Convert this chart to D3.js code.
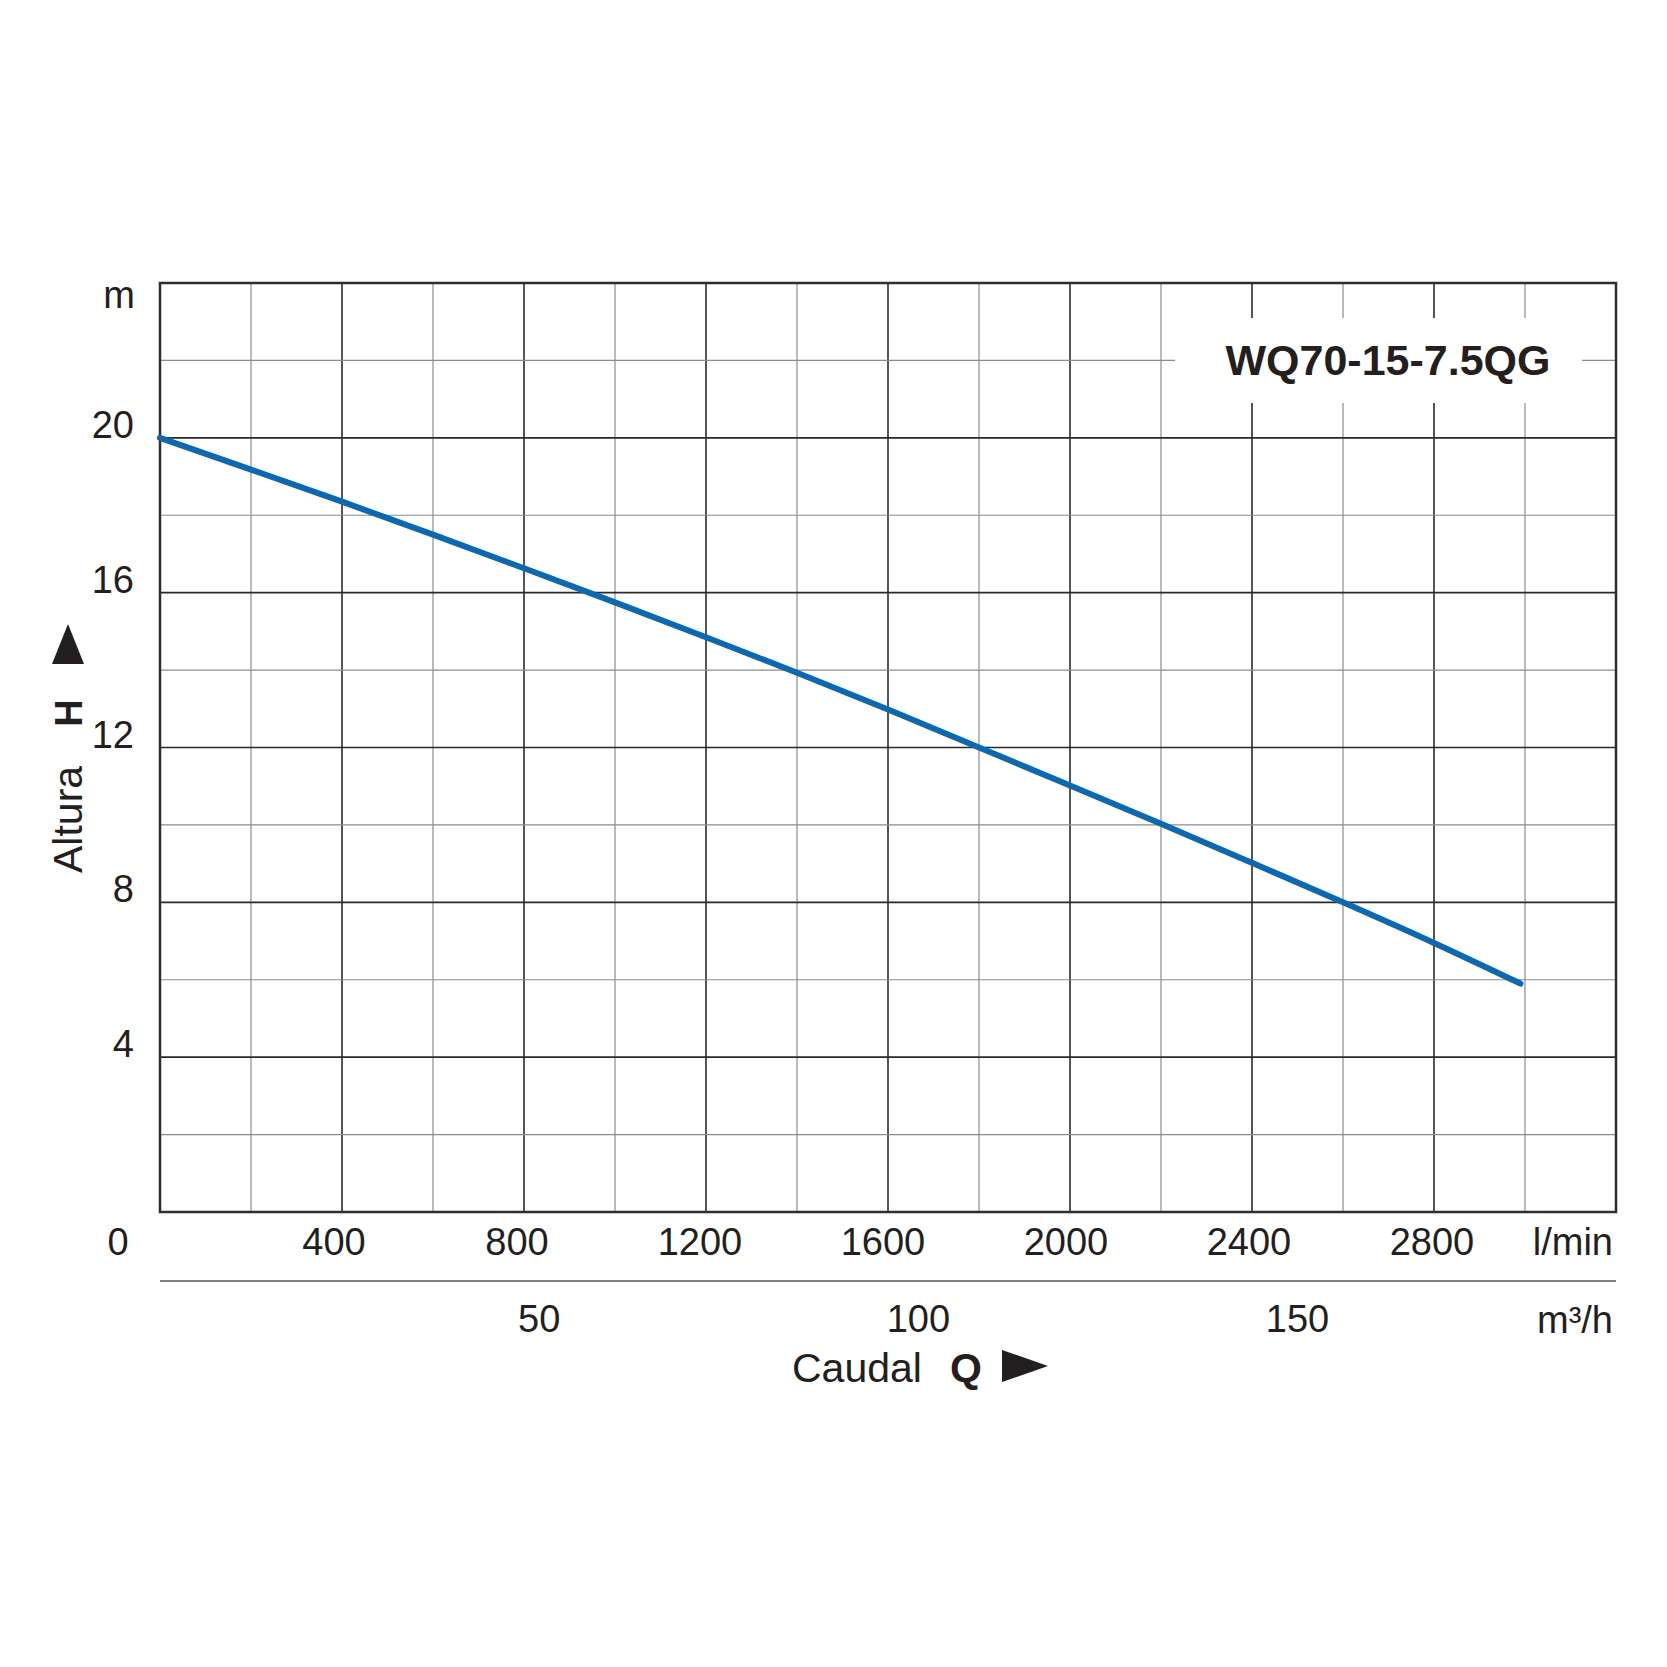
<!DOCTYPE html>
<html>
<head>
<meta charset="utf-8">
<script src="https://cdn.jsdelivr.net/npm/d3@7"></script>
<style>
  body { margin: 0; background: #fff; }
  text { font-family: "Liberation Sans", Arial, Helvetica, sans-serif; fill: #231f20; }
</style>
</head>
<body>
<svg id="chart" width="1667" height="1667"></svg>
<script>
// pump curve WQ70-15-7.5QG
var modelName = "WQ70-15-7.5QG";
var flowLmin = [0, 200, 400, 600, 800, 1000, 1200, 1400, 1600, 1800, 2000, 2200, 2400, 2600, 2800, 2990];
var headM    = [20, 19.18, 18.35, 17.5, 16.63, 15.75, 14.85, 13.93, 12.98, 12.0, 11.02, 10.03, 9.02, 8.0, 6.95, 5.9];
var xTicksLmin = [400, 800, 1200, 1600, 2000, 2400, 2800];
var xTicksM3h = [50, 100, 150];
var yTicks = [4, 8, 12, 16, 20];

var svg = d3.select('#chart');
svg.append('rect').attr('width', 1667).attr('height', 1667).attr('fill', '#fff');

var x = d3.scaleLinear().domain([0, 3200]).range([160, 1616]);
var y = d3.scaleLinear().domain([0, 24]).range([1212, 283]);

//grid lines, minor first then major on top
var g = svg.append('g');
d3.range(200, 3200, 200).forEach(function(v){
    var major = v % 400 == 0;
    g.append('line')
        .attr('x1', x(v)).attr('x2', x(v))
        .attr('y1', y(0)).attr('y2', y(24))
        .attr('stroke', major ? '#2a2a2a' : '#8c8c8c')
        .attr('stroke-width', major ? 1.6 : 1.2);
});
d3.range(2, 24, 2).forEach(function(v){
    var major = v % 4 == 0;
    g.append('line')
        .attr('x1', x(0)).attr('x2', x(3200))
        .attr('y1', y(v)).attr('y2', y(v))
        .attr('stroke', major ? '#2a2a2a' : '#8c8c8c')
        .attr('stroke-width', major ? 1.6 : 1.2);
});

//white box behind model name
svg.append('rect')
    .attr('x', 1175).attr('y', 318)
    .attr('width', 407).attr('height', 85)
    .attr('fill', '#fff');
svg.append('text')
    .attr('x', 1388).attr('y', 375)
    .attr('text-anchor', 'middle')
    .style('font-size', '43px').style('font-weight', 'bold')
    .text(modelName);

//frame
svg.append('rect')
    .attr('x', x(0)).attr('y', y(24))
    .attr('width', x(3200) - x(0)).attr('height', y(0) - y(24))
    .attr('fill', 'none').attr('stroke', '#2e2e2e').attr('stroke-width', 2.5);

//curve
var pts = flowLmin.map(function(f, i){ return [f, headM[i]]; });
var line = d3.line()
    .x(function(d){ return x(d[0]); })
    .y(function(d){ return y(d[1]); })
    .curve(d3.curveMonotoneX);
svg.append('path')
    .attr('d', line(pts))
    .attr('fill', 'none')
    .attr('stroke', '#0b68b1')
    .attr('stroke-width', 6)
    .attr('stroke-linecap', 'round')
    .attr('stroke-linejoin', 'round');

//y tick labels
yTicks.forEach(function(v){
    svg.append('text')
        .attr('x', 134).attr('y', y(v))
        .attr('text-anchor', 'end')
        .style('font-size', '38px')
        .text(v);
});
svg.append('text').attr('x', 135).attr('y', y(24) + 25)
    .attr('text-anchor', 'end').style('font-size', '38px').text('m');
svg.append('text').attr('x', 118).attr('y', 1255)
    .attr('text-anchor', 'middle').style('font-size', '38px').text('0');

//x tick labels l/min
xTicksLmin.forEach(function(v){
    svg.append('text')
        .attr('x', x(v) - 9 + v * 0.0025).attr('y', 1255)
        .attr('text-anchor', 'middle')
        .style('font-size', '38px')
        .text(v);
});
svg.append('text').attr('x', 1613).attr('y', 1255)
    .attr('text-anchor', 'end').style('font-size', '38px').text('l/min');

//separator between the two flow scales
svg.append('line')
    .attr('x1', x(0)).attr('x2', x(3200))
    .attr('y1', 1281).attr('y2', 1281)
    .attr('stroke', '#555').attr('stroke-width', 1.5);

//m3/h labels (1 m3/h = 1000/60 l/min)
xTicksM3h.forEach(function(v){
    svg.append('text')
        .attr('x', x(v * 1000 / 60)).attr('y', 1332)
        .attr('text-anchor', 'middle')
        .style('font-size', '38px')
        .text(v);
});
svg.append('text').attr('x', 1613).attr('y', 1333)
    .attr('text-anchor', 'end').style('font-size', '38px').text('m³/h');

//x axis title
svg.append('text').attr('x', 792).attr('y', 1382)
    .style('font-size', '41px').text('Caudal');
svg.append('text').attr('x', 950).attr('y', 1382)
    .style('font-size', '41px').style('font-weight', 'bold').text('Q');
svg.append('path')
    .attr('d', 'M1002,1350 L1048,1366 L1002,1382 Z')
    .attr('fill', '#231f20');

//y axis title
svg.append('text')
    .attr('transform', 'translate(82,873) rotate(-90)')
    .style('font-size', '41px').text('Altura');
svg.append('text')
    .attr('transform', 'translate(82,713) rotate(-90)')
    .attr('text-anchor', 'middle')
    .style('font-size', '38px').style('font-weight', 'bold').text('H');
svg.append('path')
    .attr('d', 'M68,624 L84,664 L52,664 Z')
    .attr('fill', '#231f20');
</script>
</body>
</html>
